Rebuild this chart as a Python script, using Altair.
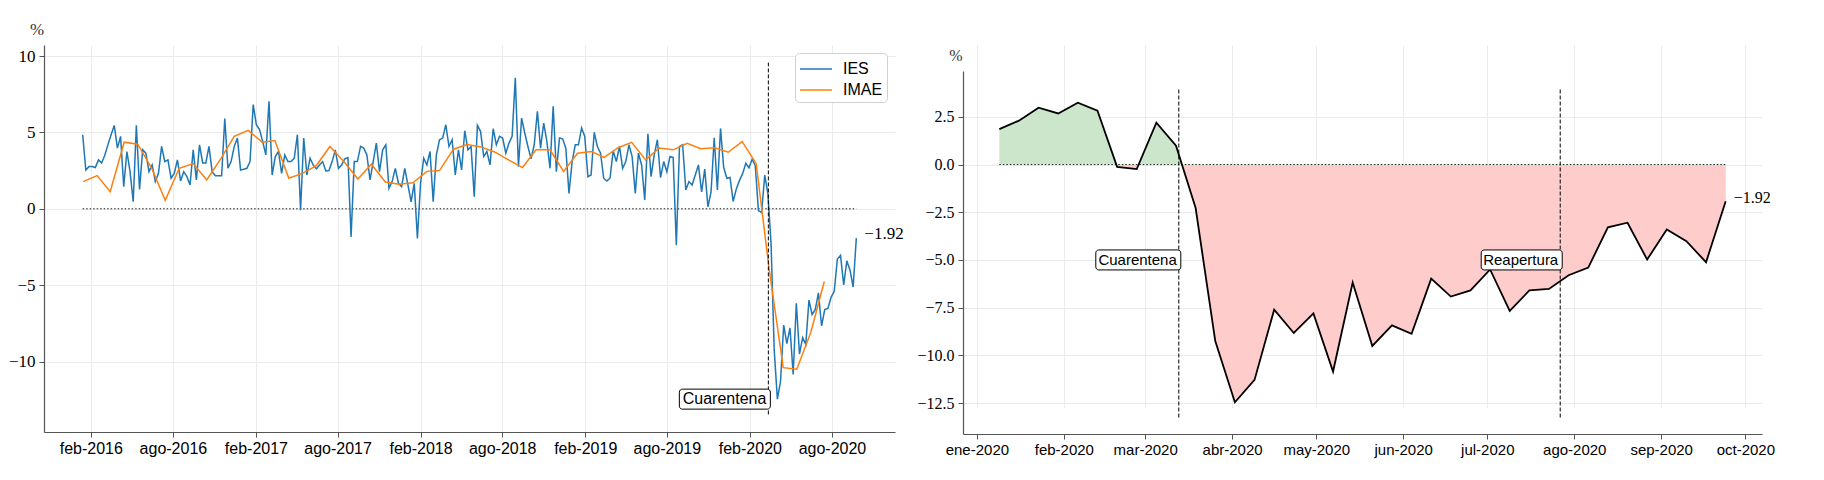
import altair as alt
import pandas as pd

# ---------------- data ----------------
ies_2016 = [4.85, 2.54, 2.76, 2.76, 2.7, 3.2, 3.0, 3.5, 4.2, 4.85, 5.46, 3.97, 4.74, 1.45, 3.75, 2.43,
            0.46, 5.46, 1.27, 3.86, 3.64, 2.43, 2.87, 1.78, 2.32, 4.08, 3.09, 3.2, 2.0, 2.32, 3.2, 1.82,
            2.43, 2.1, 1.56, 3.86, 1.89, 4.19, 3.0, 3.0, 4.08, 2.43, 2.17, 2.17, 2.17, 5.9, 2.65, 3.09,
            4.08, 4.63, 2.54]
ies_2017 = [2.59, 2.65, 3.09, 6.82, 5.5, 5.18, 4.41, 3.53, 7.04, 2.21, 3.42, 3.75, 2.32, 3.53, 3.09,
            3.09, 3.31, 4.85, -0.09, 4.63, 2.21, 3.31, 2.87, 2.61, 2.87, 3.09, 2.48, 2.5, 3.09, 3.86,
            2.65, 2.87, 3.27, 3.35, -1.84, 3.09, 3.09, 4.08, 3.97, 3.53, 1.89, 3.09, 4.3, 2.43, 3.86,
            4.19, 1.34, 1.78, 2.65, 1.67, 1.45, 2.65]
ies_2018 = [1.56, 0.46, 1.67, -1.95, 1.67, 3.31, 2.87, 3.75, 0.46, 3.53, 4.52, 4.63, 5.5, 4.08, 4.52,
            2.21, 3.86, 2.54, 5.11, 3.86, 4.08, 0.79, 5.46, 5.07, 3.42, 3.75, 2.87, 5.24, 4.19, 4.74,
            4.63, 3.64, 4.3, 4.74, 8.57, 2.76, 5.94, 4.96, 4.08, 3.27, 4.19, 6.38, 3.97, 5.61, 4.41,
            2.65, 6.71, 2.43, 4.63, 4.58, 3.97, 1.01]
ies_2019 = [3.09, 4.19, 4.19, 5.29, 4.74, 2.1, 2.21, 5.0, 4.08, 3.64, 2.0, 1.82, 2.0, 3.79, 3.09, 4.08,
            2.65, 3.09, 4.19, 3.42, 1.01, 3.64, 2.87, 0.57, 4.91, 2.1, 3.53, 4.52, 2.04, 3.09, 2.43,
            3.42, 3.35, -2.39, 4.08, 4.19, 1.23, 1.78, 1.56, 2.21, 2.87, 1.1, 2.6, 0.13, 1.1, 4.65,
            1.23, 5.26, 2.7, 2.0, 2.05, 0.48]
ies_2020 = [1.3, 1.86, 2.3, 2.98, 2.68, 3.24, 2.82, -0.12, -0.24, 2.2, 0.99, -2.28, -9.25, -12.46,
            -11.29, -7.61, -8.83, -7.8, -10.85, -6.18, -9.51, -8.43, -8.87, -5.98, -6.92, -6.6, -5.5,
            -7.67, -6.6, -6.52, -5.8, -5.4, -3.29, -3.05, -4.98, -3.4, -4.02, -5.12, -1.92]

imae_2016 = [1.78, 2.17, 1.12, 4.36, 4.23, 2.65, 0.55, 2.65, 2.96, 1.89, 3.27, 4.74]
imae_2017 = [5.13, 4.36, 4.47, 2.0, 2.32, 2.83, 4.08, 3.09, 1.95, 2.92, 1.75, 1.6]
imae_2018 = [1.7, 2.45, 2.5, 3.9, 4.2, 4.05, 3.72, 3.2, 2.7, 3.86, 3.86, 2.45]
imae_2019 = [3.64, 3.75, 3.36, 4.0, 4.35, 3.2, 3.98, 3.86, 4.28, 3.93, 4.0, 3.7]
imae_2020 = [4.4, 2.95, -4.0, -10.4, -10.5, -8.1, -4.76]

series_names = ["IES", "IMAE"]
series_colors = ["#1f77b4", "#ff7f0e"]
ies_first_week = "2016-01-14"
imae_first_month = "2016-01-01"
imae_day_in_month = 15
zoom_start = "2020-01-09"
quarantine_date = "2020-03-13"
reopening_date = "2020-07-27"
event_labels = ["Cuarentena", "Reapertura"]
event_label_value_2020 = -5.0
month_abbr = ["ene", "feb", "mar", "abr", "may", "jun", "jul", "ago", "sep", "oct", "nov", "dic"]
left_xticks = ["2016-02-01", "2016-08-01", "2017-02-01", "2017-08-01", "2018-02-01",
               "2018-08-01", "2019-02-01", "2019-08-01", "2020-02-01", "2020-08-01"]
right_xticks = ["2020-01-01", "2020-02-01", "2020-03-01", "2020-04-01", "2020-05-01",
                "2020-06-01", "2020-07-01", "2020-08-01", "2020-09-01", "2020-10-01"]
left_yticks = [-10, -5, 0, 5, 10]
right_yticks = [-12.5, -10, -7.5, -5, -2.5, 0, 2.5]

# ---------------- tables ----------------
ies_values = ies_2016 + ies_2017 + ies_2018 + ies_2019 + ies_2020
imae_values = imae_2016 + imae_2017 + imae_2018 + imae_2019 + imae_2020
ies_dates = pd.date_range(ies_first_week, periods=len(ies_values), freq="7D")
imae_dates = pd.date_range(imae_first_month, periods=len(imae_values), freq="MS") + pd.Timedelta(days=imae_day_in_month - 1)

ies_df = pd.DataFrame({"date": ies_dates, "value": ies_values, "series": series_names[0]})
imae_df = pd.DataFrame({"date": imae_dates, "value": imae_values, "series": series_names[1]})
left_df = pd.concat([ies_df, imae_df], ignore_index=True)
right_df = ies_df[ies_df["date"] >= pd.Timestamp(zoom_start)].reset_index(drop=True)


def dt(s):
    t = pd.Timestamp(s)
    return alt.DateTime(year=t.year, month=t.month, date=t.day, hours=t.hour, minutes=t.minute)


def padded(lo, hi, frac=0.05):
    r = hi - lo
    return lo - frac * r, hi + frac * r


LABEL_EXPR = "[" + ",".join("'%s'" % m for m in month_abbr) + "][month(datum.value)] + '-' + year(datum.value)"
AXIS_GREY = "#555555"
GRID = "#ebebeb"


def x_axis(values, fs):
    return alt.Axis(values=[dt(v) for v in values], labelExpr=LABEL_EXPR, title=None,
                    labelFont="Liberation Sans", labelFontSize=fs, labelColor="black",
                    labelPadding=3, tickSize=5, tickColor=AXIS_GREY, domainColor=AXIS_GREY,
                    domainWidth=1.2, gridColor=GRID, gridWidth=1, labelOverlap=False)


def y_axis(values, fmt, fs, title_y):
    return alt.Axis(values=values, format=fmt, title="%", titleAngle=0, titleX=-7.5, titleY=title_y,
                    titleAlign="center", titleBaseline="middle", titleFont="Liberation Serif",
                    titleFontSize=fs + 1, titleFontWeight="normal", titleColor="#333333",
                    labelFont="Liberation Serif", labelFontSize=fs + 1, labelColor="black",
                    labelPadding=4, tickSize=5, tickColor=AXIS_GREY, domainColor=AXIS_GREY,
                    domainWidth=1.2, gridColor=GRID, gridWidth=1)


def make_encoders(xdom, ydom, xticks, yticks, yfmt, fs, title_y, yrange=None):
    xs = alt.Scale(domain=[dt(xdom[0]), dt(xdom[1])])
    if yrange is None:
        ys = alt.Scale(domain=list(ydom), nice=False, zero=False)
    else:
        ys = alt.Scale(domain=list(ydom), nice=False, zero=False, range=yrange)
    xa = x_axis(xticks, fs)
    ya = y_axis(yticks, yfmt, fs, title_y)

    def X(f):
        return alt.X(f + ":T", scale=xs, axis=xa, title=None)

    def Y(f):
        return alt.Y(f + ":Q", scale=ys, axis=ya, title="%")
    return X, Y


def event_layers(X, Y, date, lo, hi, label, label_y, fs, box_w):
    d = pd.DataFrame({"date": [pd.Timestamp(date)], "lo": [lo], "hi": [hi],
                      "ly": [label_y], "label": [label]})
    base = alt.Chart(d)
    rule = base.mark_rule(color="black", strokeDash=[4, 2], strokeWidth=1).encode(
        x=X("date"), y=Y("lo"), y2="hi:Q")
    box = base.mark_rect(fill="white", stroke="black", strokeWidth=1, cornerRadius=3,
                         xOffset=-box_w, x2Offset=2, yOffset=-10, y2Offset=10).encode(
        x=X("date"), x2="date:T", y=Y("ly"), y2="ly:Q")
    text = base.mark_text(align="right", baseline="middle", dx=-2, font="Liberation Sans",
                          fontSize=fs, color="black").encode(x=X("date"), y=Y("ly"), text="label:N")
    return [rule, box, text]


# ---------------- left panel ----------------
l_lo, l_hi = min(ies_values) - 1, max(ies_values) + 1
l_xdom = padded(ies_dates[0], ies_dates[-1])
LX, LY = make_encoders(l_xdom, padded(l_lo, l_hi), left_xticks, left_yticks, "d", 16, -15.5)

zero_left = alt.Chart(pd.DataFrame({"start": [ies_dates[0]], "end": [ies_dates[-1]], "zero": [0.0]})).mark_rule(
    color="black", strokeDash=[1.5, 2], strokeWidth=0.9).encode(x=LX("start"), x2="end:T", y=LY("zero"))

lines_left = alt.Chart(left_df).mark_line(strokeWidth=1.5).encode(
    x=LX("date"), y=LY("value"),
    color=alt.Color("series:N", scale=alt.Scale(domain=series_names, range=series_colors),
                    legend=alt.Legend(title=None, orient="top-right", offset=8, padding=4,
                                      strokeColor="#d0d0d0", fillColor="white", cornerRadius=4,
                                      symbolType="M-1.45,0H1.45", symbolStrokeWidth=1.5, symbolSize=484,
                                      symbolOffset=5, symbolFillColor="transparent",
                                      labelFont="Liberation Sans", labelFontSize=16, labelOffset=15,
                                      labelColor="black", rowPadding=1)))

last_left = alt.Chart(ies_df.tail(1)).mark_text(align="left", baseline="middle", dx=8, dy=-4,
                                                 font="Liberation Serif", fontSize=17, color="black").encode(
    x=LX("date"), y=LY("value"), text=alt.Text("value:Q", format=".2f"))

left = alt.layer(zero_left, lines_left,
                 *event_layers(LX, LY, quarantine_date, l_lo, l_hi, event_labels[0], min(ies_values), 16, 89),
                 last_left).properties(width=851, height=387)

# ---------------- right panel ----------------
rv = right_df["value"]
r_lo, r_hi = rv.min() - 0.8, rv.max() + 0.8
r_xdom = padded(right_df["date"].iloc[0], right_df["date"].iloc[-1])
RH = 389
RX, RY = make_encoders(r_xdom, padded(r_lo, r_hi), right_xticks, right_yticks, ".1f", 15, 10.3,
                       yrange=[RH, 26])

top = max(rv.max(), 0)
bot = min(rv.min(), 0)
zfrac = top / (top - bot)
green, red = "#cce6cc", "#ffcccc"
grad = alt.LinearGradient(gradient="linear", x1=0, y1=0, x2=0, y2=1,
                          stops=[alt.GradientStop(offset=0, color=green),
                                 alt.GradientStop(offset=zfrac, color=green),
                                 alt.GradientStop(offset=zfrac, color=red),
                                 alt.GradientStop(offset=1, color=red)])

area_right = alt.Chart(right_df).transform_calculate(zero="0").mark_area(color=grad).encode(
    x=RX("date"), y=RY("value"), y2="zero:Q")

zero_right = alt.Chart(pd.DataFrame({"start": [right_df["date"].iloc[0]], "end": [right_df["date"].iloc[-1]],
                                     "zero": [0.0]})).mark_rule(
    color="black", strokeDash=[1.5, 2], strokeWidth=0.9).encode(x=RX("start"), x2="end:T", y=RY("zero"))

line_right = alt.Chart(right_df).mark_line(color="black", strokeWidth=1.8).encode(x=RX("date"), y=RY("value"))

last_right = alt.Chart(right_df.tail(1)).mark_text(align="left", baseline="middle", dx=8, dy=-3,
                                                    font="Liberation Serif", fontSize=16, color="black").encode(
    x=RX("date"), y=RY("value"), text=alt.Text("value:Q", format=".2f"))

right = alt.layer(area_right, zero_right, line_right,
                  *event_layers(RX, RY, quarantine_date, r_lo, r_hi, event_labels[0], event_label_value_2020, 15, 83),
                  *event_layers(RX, RY, reopening_date, r_lo, r_hi, event_labels[1], event_label_value_2020, 15, 79),
                  last_right).properties(width=799, height=RH)

chart = alt.hconcat(left, right, spacing=12).resolve_scale(
    x="independent", y="independent", color="independent").resolve_legend(color="independent").configure_view(
    stroke=None).properties(padding={"left": 0, "top": 12, "right": 5, "bottom": 5}, background="white")

chart.save("out.html", embed_options={"renderer": "svg", "actions": False})
